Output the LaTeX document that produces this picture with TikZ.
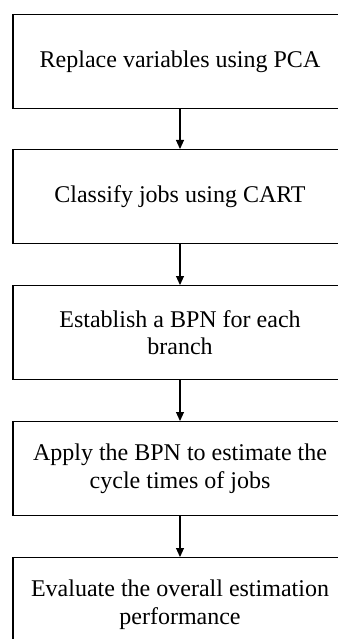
\documentclass[tikz,border=0pt]{standalone}
\usepackage{fontspec}
\setmainfont{Liberation Serif}
\usetikzlibrary{arrows.meta}
\begin{document}
\begin{tikzpicture}[x=1pt,y=1pt,
  stepbox/.style={draw=black, line width=1.1pt, minimum width=334pt, minimum height=94pt,
    inner sep=0pt, align=center, font=\fontsize{24}{27.6}\selectfont, anchor=north},
  flow/.style={line width=1.1pt, -{Triangle[length=9pt,width=8pt]}}]
\useasboundingbox (0,0) rectangle (337,-639);
\node[stepbox] (s1) at (180,-14) {Replace variables using PCA};
\node[stepbox] (s2) at (180,-149) {Classify jobs using CART};
\node[stepbox] (s3) at (180,-285) {Establish a BPN for each\\branch};
\node[stepbox] (s4) at (180,-421) {Apply the BPN to estimate the\\cycle times of jobs};
\node[stepbox] (s5) at (180,-557) {Evaluate the overall estimation\\performance};
\draw[flow] (s1.south) -- (s2.north);
\draw[flow] (s2.south) -- (s3.north);
\draw[flow] (s3.south) -- (s4.north);
\draw[flow] (s4.south) -- (s5.north);
\end{tikzpicture}
\end{document}
